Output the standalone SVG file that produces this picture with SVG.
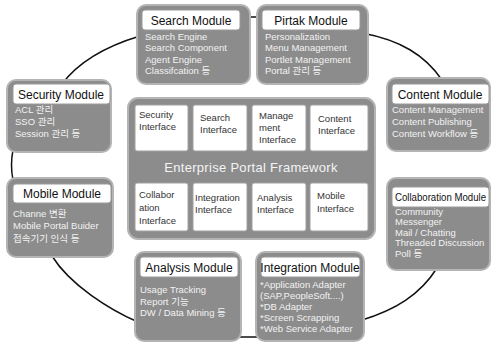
<svg xmlns="http://www.w3.org/2000/svg" width="491" height="345" viewBox="0 0 491 345">
<style>
.mod{fill:#8c8c8c;stroke:#b4b4b4;stroke-width:2}
.hdr{fill:#ffffff;stroke:#9a9a9a;stroke-width:1}
.ht{font-family:"Liberation Sans","Noto Sans CJK KR",sans-serif;font-size:12px;fill:#111}
.bt{font-family:"Liberation Sans","Noto Sans CJK KR",sans-serif;font-size:9.5px;fill:#f2f2f2}
.cell{fill:#ffffff;stroke:#a0a0a0;stroke-width:1}
.ct{font-family:"Liberation Sans",sans-serif;font-size:9.5px;fill:#333}
.conn{fill:none;stroke:#111;stroke-width:1.5}
</style>
<rect width="491" height="345" fill="#fff"/>
<g id="connectors">
<path class="conn" d="M243,17 L263,17"/>
<path class="conn" d="M140,36 C110,45 80,60 62,84"/>
<path class="conn" d="M362,33 C400,40 425,55 442,80"/>
<path class="conn" d="M13,150 C11,160 11,170 13,180"/>
<path class="conn" d="M52,256 C70,285 110,310 138,322"/>
<path class="conn" d="M240,337 L260,337"/>
<path class="conn" d="M362,320 C395,310 420,295 437,268"/>
</g>
<g id="framework">
<rect x="128" y="98" width="247" height="141" rx="10" class="mod"/>
<text x="251" y="172" text-anchor="middle" font-family="Liberation Sans,sans-serif" font-size="13" fill="#f4f4f4" letter-spacing="0.3">Enterprise Portal Framework</text>
<g id="security-interface"><rect class="cell" x="135" y="105" width="53" height="46" rx="2"/><text class="ct" x="139" y="118">Security</text><text class="ct" x="139" y="130">Interface</text></g>
<g id="search-interface"><rect class="cell" x="193" y="105" width="54" height="46" rx="2"/><text class="ct" x="200" y="121">Search</text><text class="ct" x="200" y="133">Interface</text></g>
<g id="management-interface"><rect class="cell" x="252" y="105" width="54" height="46" rx="2"/><text class="ct" x="259" y="119">Manage</text><text class="ct" x="259" y="131">ment</text><text class="ct" x="259" y="143">Interface</text></g>
<g id="content-interface"><rect class="cell" x="310" y="105" width="58" height="46" rx="2"/><text class="ct" x="318" y="122">Content</text><text class="ct" x="318" y="134">Interface</text></g>
<g id="collaboration-interface"><rect class="cell" x="135" y="183" width="53" height="48" rx="2"/><text class="ct" x="139" y="198">Collabor</text><text class="ct" x="139" y="211">ation</text><text class="ct" x="139" y="224">Interface</text></g>
<g id="integration-interface"><rect class="cell" x="193" y="183" width="54" height="48" rx="2"/><text class="ct" x="195" y="201">Integration</text><text class="ct" x="195" y="213">Interface</text></g>
<g id="analysis-interface"><rect class="cell" x="252" y="183" width="54" height="48" rx="2"/><text class="ct" x="257" y="201">Analysis</text><text class="ct" x="257" y="213">Interface</text></g>
<g id="mobile-interface"><rect class="cell" x="310" y="183" width="58" height="48" rx="2"/><text class="ct" x="317" y="199">Mobile</text><text class="ct" x="317" y="212">Interface</text></g>
</g>
<g id="search-module">
<rect class="mod" x="137" y="5" width="113" height="79" rx="9"/>
<rect class="hdr" x="142" y="10" width="98" height="20" rx="3"/>
<text class="ht" x="191" y="25" text-anchor="middle">Search Module</text>
<text class="bt" x="145" y="40">Search Engine</text>
<text class="bt" x="145" y="51">Search Component</text>
<text class="bt" x="145" y="63">Agent Engine</text>
<text class="bt" x="145" y="74">Classifcation 등</text>
</g>
<g id="pirtak-module">
<rect class="mod" x="257" y="5" width="111" height="79" rx="9"/>
<rect class="hdr" x="262" y="10" width="98" height="20" rx="3"/>
<text class="ht" x="311" y="25" text-anchor="middle">Pirtak Module</text>
<text class="bt" x="265" y="40">Personalization</text>
<text class="bt" x="265" y="51">Menu Management</text>
<text class="bt" x="265" y="63">Portlet Management</text>
<text class="bt" x="265" y="74">Portal 관리 등</text>
</g>
<g id="security-module">
<rect class="mod" x="7" y="80" width="104" height="72" rx="9"/>
<rect class="hdr" x="13" y="84" width="97" height="20" rx="3"/>
<text class="ht" x="61" y="99" text-anchor="middle">Security Module</text>
<text class="bt" x="15" y="113">ACL 관리</text>
<text class="bt" x="15" y="125">SSO 관리</text>
<text class="bt" x="15" y="137">Session 관리 등</text>
</g>
<g id="content-module">
<rect class="mod" x="387" y="78" width="103" height="73" rx="9"/>
<rect class="hdr" x="392" y="84" width="97" height="20" rx="3"/>
<text class="ht" x="440" y="99" text-anchor="middle">Content Module</text>
<text class="bt" x="392" y="113">Content Management</text>
<text class="bt" x="392" y="125">Content Publishing</text>
<text class="bt" x="392" y="137">Content Workflow 등</text>
</g>
<g id="mobile-module">
<rect class="mod" x="7" y="178" width="106" height="79" rx="9"/>
<rect class="hdr" x="13" y="184" width="98" height="19" rx="3"/>
<text class="ht" x="62" y="198" text-anchor="middle">Mobile Module</text>
<text class="bt" x="13" y="217">Channe 변환</text>
<text class="bt" x="13" y="229">Mobile Portal Buider</text>
<text class="bt" x="13" y="242">접속기기 인식 등</text>
</g>
<g id="collaboration-module">
<rect class="mod" x="387" y="178" width="103" height="92" rx="9"/>
<rect class="hdr" x="392" y="187" width="97" height="20" rx="3"/>
<text class="ht" x="395" y="201" style="font-size:10px" textLength="91" lengthAdjust="spacingAndGlyphs">Collaboration Module</text>
<text class="bt" x="395" y="215">Community</text>
<text class="bt" x="395" y="225">Messenger</text>
<text class="bt" x="395" y="236">Mail / Chatting</text>
<text class="bt" x="395" y="246">Threaded Discussion</text>
<text class="bt" x="395" y="257">Poll 등</text>
</g>
<g id="analysis-module">
<rect class="mod" x="135" y="252" width="106" height="89" rx="9"/>
<rect class="hdr" x="140" y="257" width="98" height="20" rx="3"/>
<text class="ht" x="189" y="272" text-anchor="middle">Analysis Module</text>
<text class="bt" x="140" y="293">Usage Tracking</text>
<text class="bt" x="140" y="305">Report 기능</text>
<text class="bt" x="140" y="316">DW / Data Mining 등</text>
</g>
<g id="integration-module">
<rect class="mod" x="256" y="252" width="108" height="89" rx="9"/>
<rect class="hdr" x="261" y="257" width="99" height="20" rx="3"/>
<text class="ht" x="310" y="272" text-anchor="middle">Integration Module</text>
<text class="bt" x="260" y="288">*Application Adapter</text>
<text class="bt" x="260" y="299">(SAP,PeopleSoft....)</text>
<text class="bt" x="260" y="310">*DB Adapter</text>
<text class="bt" x="260" y="321">*Screen Scrapping</text>
<text class="bt" x="260" y="332">*Web Service Adapter</text>
</g>
</svg>
